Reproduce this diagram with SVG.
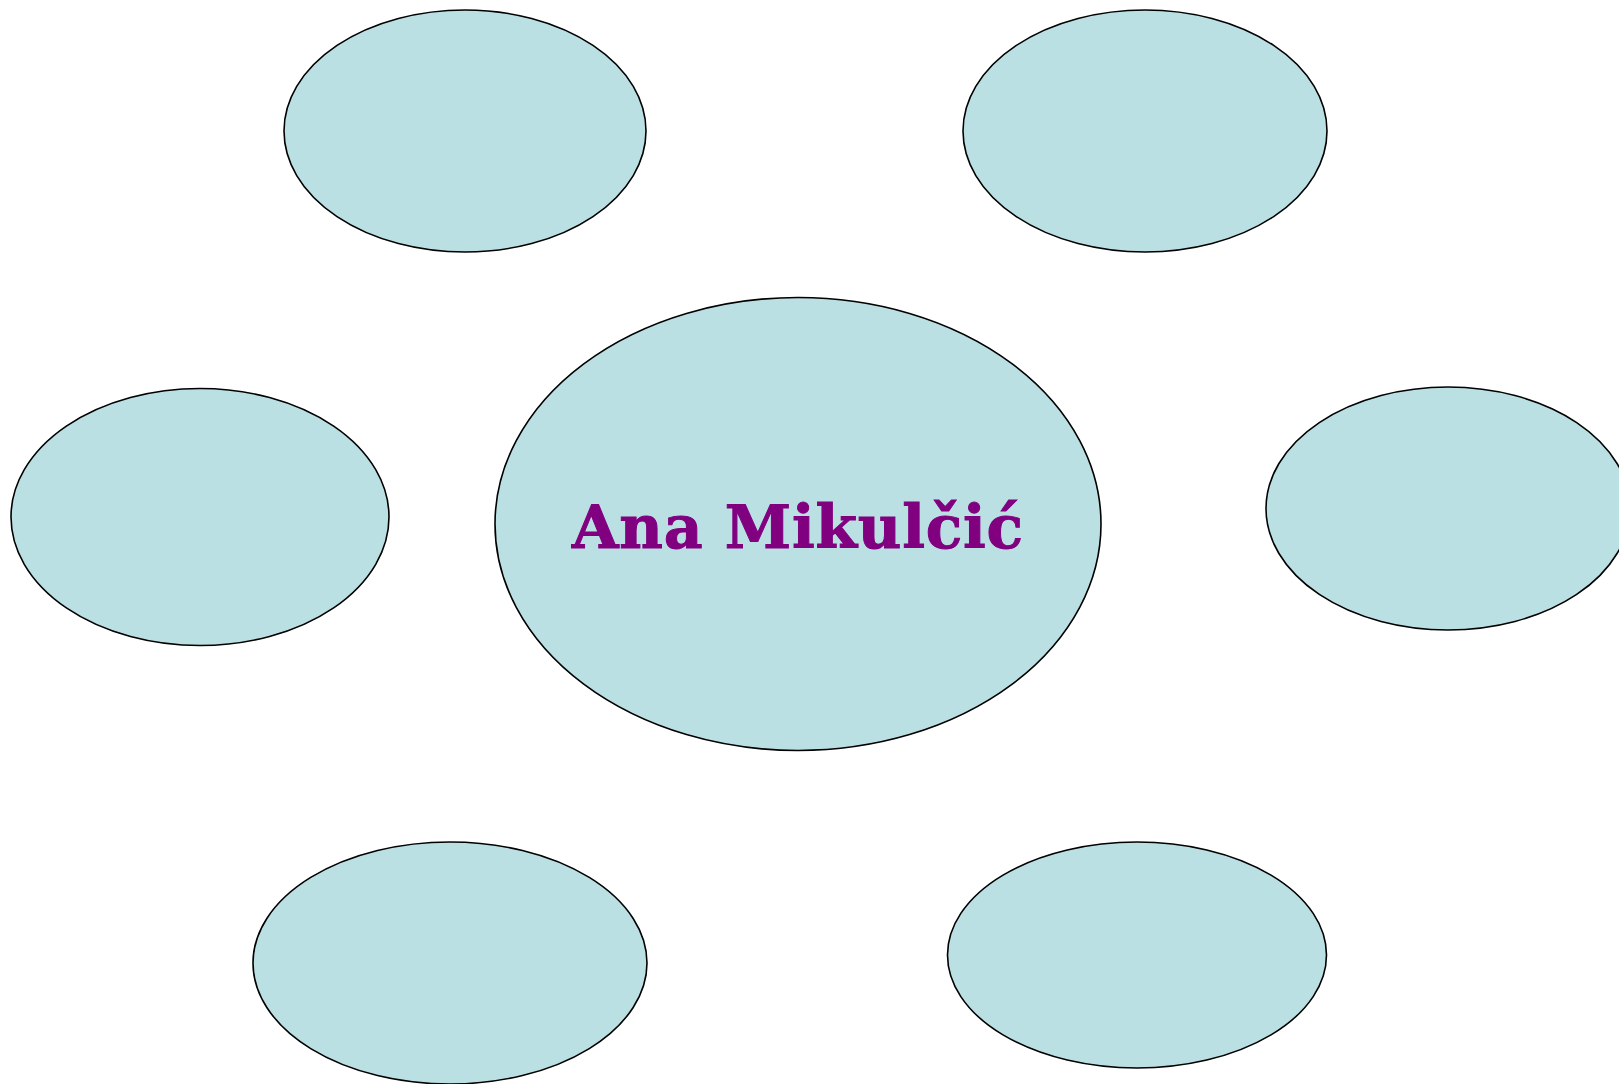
<svg xmlns="http://www.w3.org/2000/svg" width="1619" height="1084" viewBox="0 0 1619 1084">
<style>
.node{fill:#BBE0E3;stroke:#000;stroke-width:1.6}
.lbl{font-family:"DejaVu Serif","Liberation Serif",serif;font-weight:bold;fill:#800080;stroke:#800080;stroke-width:1;font-size:60px}
</style>
<rect width="1619" height="1084" fill="#fff"/>
<g id="connectors"></g>
<g id="n-top-left"><ellipse class="node" cx="465" cy="131" rx="181" ry="121"/></g>
<g id="n-top-right"><ellipse class="node" cx="1145" cy="131" rx="182" ry="121"/></g>
<g id="n-left"><ellipse class="node" cx="200" cy="517" rx="189" ry="128.5"/></g>
<g id="n-right"><ellipse class="node" cx="1448" cy="508.5" rx="182" ry="121.5"/></g>
<g id="n-bottom-left"><ellipse class="node" cx="450" cy="963" rx="197" ry="121"/></g>
<g id="n-bottom-right"><ellipse class="node" cx="1137" cy="955" rx="189.5" ry="113"/></g>
<g id="n-center"><ellipse class="node" cx="798" cy="524" rx="303" ry="226.5"/>
<text class="lbl" x="572" y="548" textLength="451" lengthAdjust="spacing">Ana Mikulčić</text></g>
</svg>
